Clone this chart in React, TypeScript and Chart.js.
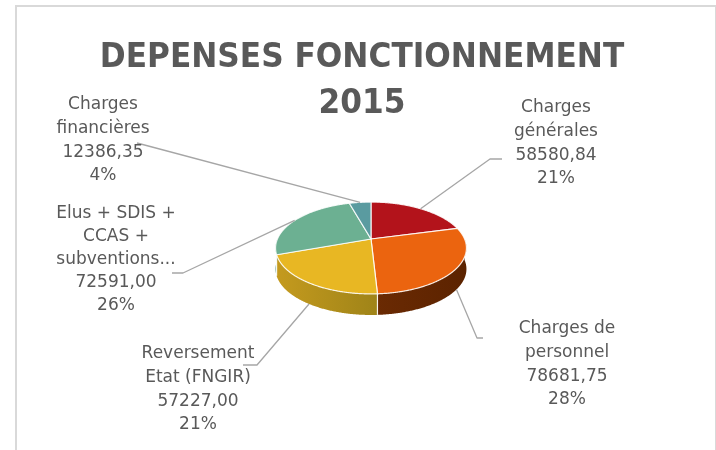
import React, { useEffect, useRef } from "react";
import { Chart, registerables } from "chart.js";

Chart.register(...registerables);

// ---- data ----
const categories = [
  "Charges générales",
  "Charges de personnel",
  "Reversement Etat (FNGIR)",
  "Elus + SDIS + CCAS + subventions...",
  "Charges financières",
];
const labelLines = [
  ["Charges", "générales"],
  ["Charges de", "personnel"],
  ["Reversement", "Etat (FNGIR)"],
  ["Elus + SDIS +", "CCAS +", "subventions..."],
  ["Charges", "financières"],
];
const values = [58580.84, 78681.75, 57227.0, 72591.0, 12386.35];
const percentLabels = ["21%", "28%", "21%", "26%", "4%"];
const titleLines = ["DEPENSES FONCTIONNEMENT", "2015"];

// ---- styles / layout ----
const topColors = ["#B3131B", "#EB640F", "#E8B723", "#6CB092", "#5A9BA0"];
const sideColors = [
  ["#7d0d12", "#5e090d"],
  ["#7a3206", "#5c2300"],
  ["#c49a1e", "#7f7013"],
  ["#4d8a6e", "#3a6b55"],
  ["#3f7478", "#2e5a5e"],
];
const labelPos = [
  { x: 556, y: 108 },
  { x: 567, y: 329 },
  { x: 198, y: 354 },
  { x: 116, y: 214 },
  { x: 103, y: 105 },
];
const leaderPts = [
  [[502, 159], [490, 159]],
  [[483, 338], [477, 338]],
  [[243, 365], [257, 365]],
  [[172, 273], [183, 273]],
  [[137, 143]],
];

const TEXT = "#595959";

const pie3d = {
  id: "pie3d",
  beforeDraw(chart: any) {
    const ctx = chart.ctx as CanvasRenderingContext2D;
    ctx.save();
    ctx.fillStyle = "#ffffff";
    ctx.fillRect(0, 0, chart.width, chart.height);
    ctx.strokeStyle = "#d9d9d9";
    ctx.lineWidth = 2;
    ctx.strokeRect(16, 6, 700, 470);
    // title
    ctx.fillStyle = TEXT;
    ctx.font = "bold 34px 'DejaVu Sans'";
    ctx.textAlign = "center";
    ctx.textBaseline = "alphabetic";
    const baselines = [67, 113];
    titleLines.forEach((t, i) => {
      ctx.save();
      ctx.translate(362, baselines[i]);
      ctx.scale(0.918, 1);
      ctx.fillText(t, 0, 0);
      ctx.restore();
    });
    ctx.restore();
  },
  beforeDatasetsDraw(chart: any) {
    const ctx = chart.ctx as CanvasRenderingContext2D;
    const meta = chart.getDatasetMeta(0);
    const arcs = meta.data as any[];
    const cx = arcs[0].x, cy = arcs[0].y, R = arcs[0].outerRadius;
    const A = R, B = R * 0.472, a = 0.1956, depth = R * 0.225;
    const proj = (t: number, d = 0) => {
      const u = Math.cos(t), v = Math.sin(t), w = 1 - a * v;
      return [cx + (A * u) / w, cy + (B * v) / w + d];
    };
    const step = Math.PI / 360;
    const samples = (s: number, e: number) => {
      const pts: number[] = [];
      const n = Math.max(2, Math.ceil((e - s) / step));
      for (let k = 0; k <= n; k++) pts.push(s + ((e - s) * k) / n);
      return pts;
    };
    ctx.save();
    // sides
    arcs.forEach((arc, i) => {
      const s = Math.max(arc.startAngle, 0);
      const e = Math.min(arc.endAngle, Math.PI);
      if (e <= s) return;
      const ts = samples(s, e);
      ctx.beginPath();
      ts.forEach((t, k) => {
        const p = proj(t);
        if (k === 0) ctx.moveTo(p[0], p[1]);
        else ctx.lineTo(p[0], p[1]);
      });
      for (let k = ts.length - 1; k >= 0; k--) {
        const p = proj(ts[k], depth);
        ctx.lineTo(p[0], p[1]);
      }
      ctx.closePath();
      const g = ctx.createLinearGradient(cx - A, 0, cx + A, 0);
      g.addColorStop(0, sideColors[i][0]);
      g.addColorStop(1, sideColors[i][1]);
      ctx.fillStyle = g;
      ctx.fill();
    });
    // white separators on side
    ctx.strokeStyle = "rgba(255,255,255,0.9)";
    ctx.lineWidth = 1.2;
    arcs.forEach((arc) => {
      const t = arc.startAngle;
      if (t > 0.05 && t < Math.PI - 0.05) {
        const p1 = proj(t), p2 = proj(t, depth);
        ctx.beginPath();
        ctx.moveTo(p1[0], p1[1]);
        ctx.lineTo(p2[0], p2[1]);
        ctx.stroke();
      }
    });
    // top faces
    arcs.forEach((arc, i) => {
      const ts = samples(arc.startAngle, arc.endAngle);
      ctx.beginPath();
      ctx.moveTo(cx, cy);
      ts.forEach((t) => {
        const p = proj(t);
        ctx.lineTo(p[0], p[1]);
      });
      ctx.closePath();
      ctx.fillStyle = topColors[i];
      ctx.fill();
      ctx.strokeStyle = "rgba(255,255,255,0.85)";
      ctx.lineWidth = 1.2;
      ctx.lineJoin = "round";
      ctx.stroke();
    });
    // leader lines
    ctx.strokeStyle = "#a6a6a6";
    ctx.lineWidth = 1.3;
    arcs.forEach((arc, i) => {
      const m = (arc.startAngle + arc.endAngle) / 2;
      const end = proj(m, Math.sin(m) > 0 ? depth : 0);
      const pts = leaderPts[i];
      ctx.beginPath();
      ctx.moveTo(pts[0][0], pts[0][1]);
      for (let k = 1; k < pts.length; k++) ctx.lineTo(pts[k][0], pts[k][1]);
      ctx.lineTo(end[0], end[1]);
      ctx.stroke();
    });
    // labels
    ctx.fillStyle = TEXT;
    ctx.font = "17px 'DejaVu Sans'";
    ctx.textAlign = "center";
    ctx.textBaseline = "middle";
    values.forEach((v, i) => {
      const lines = [
        ...labelLines[i],
        v.toFixed(2).replace(".", ","),
        percentLabels[i],
      ];
      const lh = i === 3 ? 23 : 23.6;
      lines.forEach((l, k) => {
        ctx.fillText(l, labelPos[i].x, labelPos[i].y + k * lh);
      });
    });
    ctx.restore();
    return false;
  },
};

export default function App() {
  const ref = useRef<HTMLCanvasElement>(null);
  useEffect(() => {
    const chart = new Chart(ref.current as HTMLCanvasElement, {
      type: "pie",
      data: {
        labels: categories,
        datasets: [{ data: values, backgroundColor: topColors, borderWidth: 0 }],
      },
      options: {
        responsive: false,
        animation: false,
        devicePixelRatio: 1,
        events: [],
        layout: { padding: { left: 277.4, right: 251.4, top: 145.4, bottom: 117.4 } },
        plugins: {
          legend: { display: false },
          title: { display: false },
          tooltip: { enabled: false },
        },
      },
      plugins: [pie3d as any],
    });
    return () => chart.destroy();
  }, []);
  return (
    <canvas
      ref={ref}
      width={716}
      height={450}
      style={{ position: "fixed", left: 0, top: 0, display: "block" }}
    />
  );
}
